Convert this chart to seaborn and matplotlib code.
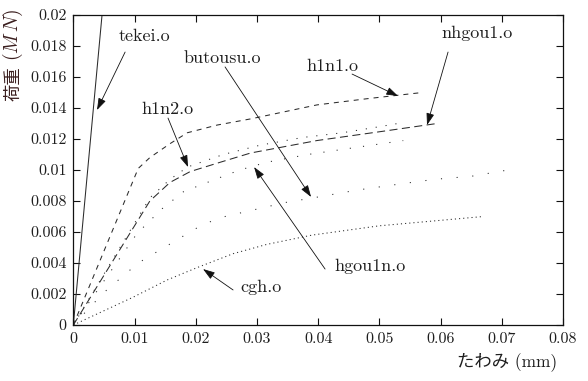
#!/usr/bin/env python3
"""Load-deflection curves (荷重 vs たわみ) for several models, seaborn version."""

import matplotlib
matplotlib.use("Agg")
import matplotlib.pyplot as plt
import seaborn as sns

# --- Data ---
TEKEI_X = [0, 0.00469]
TEKEI_Y = [0, 0.0200]

H1N1_X = [0, 0.0106, 0.0125, 0.0158, 0.0186, 0.0235, 0.0290, 0.0398, 0.0480, 0.0570]
H1N1_Y = [0, 0.0101, 0.0108, 0.0117, 0.0124, 0.0129, 0.0133, 0.0142, 0.0146, 0.0150]

NHGOU1_X = [0, 0.0125, 0.0158, 0.0191, 0.0240, 0.0290, 0.0398, 0.0506, 0.0594]
NHGOU1_Y = [0, 0.0080, 0.0092, 0.0099, 0.0105, 0.0111, 0.0119, 0.0125, 0.0130]

H1N2_X = [0, 0.0125, 0.0158, 0.0187, 0.0245, 0.0305, 0.0375, 0.0439, 0.0501, 0.0530]
H1N2_Y = [0, 0.0082, 0.0094, 0.0102, 0.0110, 0.0116, 0.0121, 0.0124, 0.0128, 0.0130]

HGOU1N_X = [0, 0.0104, 0.0145, 0.0180, 0.0232, 0.0272, 0.0316, 0.0383, 0.0452, 0.0539]
HGOU1N_Y = [0, 0.0059, 0.0075, 0.0086, 0.0094, 0.0100, 0.0105, 0.0110, 0.0114, 0.0119]

BUTOUSU_X = [0, 0.0050, 0.0106, 0.0212, 0.0248, 0.0346, 0.0406, 0.0463, 0.0534, 0.0591, 0.0651, 0.0710]
BUTOUSU_Y = [0, 0.0021, 0.0040, 0.0065, 0.0070, 0.0079, 0.0083, 0.0087, 0.0091, 0.0094, 0.0096, 0.0100]

CGH_X = [0, 0.0098, 0.0153, 0.0202, 0.0261, 0.0316, 0.0390, 0.0500, 0.0670]
CGH_Y = [0, 0.0018, 0.0029, 0.0037, 0.0046, 0.0052, 0.0058, 0.0064, 0.0070]

X_TICKS = [0, 0.01, 0.02, 0.03, 0.04, 0.05, 0.06, 0.07, 0.08]
X_TICK_LABELS = ["0", "0.01", "0.02", "0.03", "0.04", "0.05", "0.06", "0.07", "0.08"]
Y_TICKS = [0, 0.002, 0.004, 0.006, 0.008, 0.010, 0.012, 0.014, 0.016, 0.018, 0.020]
Y_TICK_LABELS = ["0", "0.002", "0.004", "0.006", "0.008", "0.01",
                 "0.012", "0.014", "0.016", "0.018", "0.02"]

# --- Styling ---
sns.set_theme(style="ticks")
plt.rcParams["font.family"] = ["cmr10", "Noto Sans CJK JP", "DejaVu Sans"]
plt.rcParams["mathtext.fontset"] = "cm"
plt.rcParams["lines.scale_dashes"] = False

LINE_COLOR = "#2b2b2b"
TEXT_COLOR = "#1e1e1e"
YLABEL_COLOR = "#3a1e1e"

# (x, y, linestyle) per curve
curves = [
    (TEKEI_X, TEKEI_Y, "-"),
    (H1N1_X, H1N1_Y, (0, (3.6, 3.6))),
    (NHGOU1_X, NHGOU1_Y, (0, (5.8, 3.2))),
    (H1N2_X, H1N2_Y, (0, (0.8, 6.4))),
    (HGOU1N_X, HGOU1N_Y, (0, (0.8, 8.8))),
    (BUTOUSU_X, BUTOUSU_Y, (0, (0.8, 10.5))),
    (CGH_X, CGH_Y, (0, (0.8, 2.2))),
]

# label, text position, arrow tail, arrow head (data coords)
annotations = [
    ("tekei.o", (0.0116, 0.0186), (0.00846, 0.01761), (0.00387, 0.01387)),
    ("butousu.o", (0.0243, 0.0172), (0.02479, 0.01665), (0.03884, 0.00826)),
    ("h1n2.o", (0.0153, 0.0139), (0.01547, 0.01335), (0.01874, 0.01019)),
    ("h1n1.o", (0.0423, 0.0167), (0.04554, 0.01619), (0.05306, 0.01477)),
    ("nhgou1.o", (0.0660, 0.0188), (0.06122, 0.01761), (0.05779, 0.01290)),
    ("hgou1n.o", (0.0485, 0.0038), (0.04113, 0.00361), (0.02953, 0.01019)),
    ("cgh.o", (0.0307, 0.0024), (0.02610, 0.00226), (0.02119, 0.00361)),
]

fig = plt.figure(figsize=(5.88, 3.81), dpi=100)
ax = fig.add_axes([0.1247, 0.147, 0.8328, 0.8136])

for xs, ys, ls in curves:
    sns.lineplot(x=xs, y=ys, ax=ax, color=LINE_COLOR, lw=0.75,
                 linestyle=ls, sort=False, estimator=None)

for label, txt, tail, head in annotations:
    ax.annotate("", xy=head, xytext=tail,
                arrowprops=dict(arrowstyle="-|>,head_length=0.6,head_width=0.2",
                                color="#111111", lw=0.6, mutation_scale=12,
                                shrinkA=0, shrinkB=0))
    ax.text(txt[0], txt[1], label, ha="center", va="center",
            fontsize=13, color=TEXT_COLOR)

ax.set_xlim(0, 0.08)
ax.set_ylim(0, 0.02)
ax.set_xticks(X_TICKS)
ax.set_xticklabels(X_TICK_LABELS)
ax.set_yticks(Y_TICKS)
ax.set_yticklabels(Y_TICK_LABELS)
ax.tick_params(direction="in", top=True, right=True, length=5, width=0.8,
               labelsize=11.5, pad=5, colors="#111111", labelcolor=TEXT_COLOR)

for sp in ax.spines.values():
    sp.set_visible(True)
    sp.set_linewidth(0.9)
    sp.set_color("#111111")

ax.set_xlabel("たわみ (mm)", fontsize=12.5, color=TEXT_COLOR)
ax.xaxis.set_label_coords(0.885, -0.119)
ax.xaxis.label.set_va("center")

# y label: CJK part as the axis label, unit in math italic just above it
ax.set_ylabel("荷重", fontsize=12.5, color=YLABEL_COLOR)
ax.yaxis.set_label_coords(-0.123, 0.78)
ax.yaxis.label.set_va("center")
ax.text(-0.123, 0.935, "$(M\\,N)$", transform=ax.transAxes, rotation=90,
        ha="center", va="center", fontsize=14, color=YLABEL_COLOR)

fig.savefig("out.png", dpi=100)
plt.close(fig)
